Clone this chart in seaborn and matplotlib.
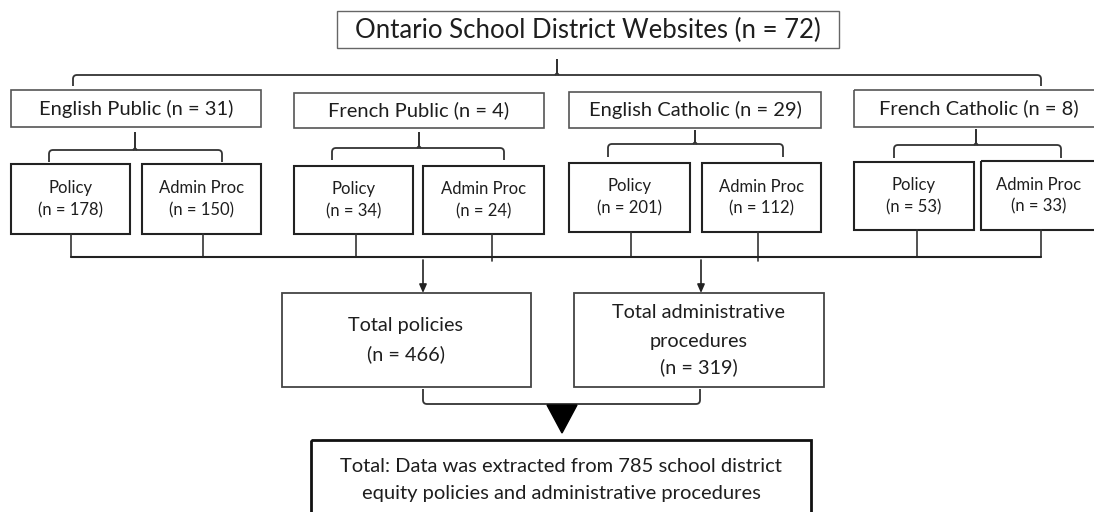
import matplotlib
matplotlib.use('Agg')

import numpy as np
import matplotlib.pyplot as plt
import seaborn as sns
from matplotlib.patches import Rectangle, PathPatch, Polygon
from matplotlib.path import Path

# =========================
# DATA
# =========================
root_label = "Ontario School District Websites"
root_n = 72
groups = ["English Public", "French Public", "English Catholic", "French Catholic"]
group_n = [31, 4, 29, 8]
policy_n = [178, 34, 201, 53]
admin_n = [150, 24, 112, 33]
total_policies = 466
total_admin = 319
total_docs = 785

# =========================
# LAYOUT (pixel coords, y goes down)
# =========================
root_box = (337, 11, 839, 48)
group_boxes = [(11, 90, 261, 127), (294, 93, 544, 128),
               (569, 92, 821, 128), (854, 90, 1104, 127)]
group_brackets = [(49, 222, 150, 162, 135, 133), (332, 504, 148, 160, 419, 133),
                  (608, 783, 144, 157, 695, 131), (894, 1061, 145, 158, 976, 130)]
policy_boxes = [(11, 164, 130, 234), (294, 166, 413, 234),
                (569, 163, 690, 232), (854, 162, 974, 230)]
admin_boxes = [(142, 164, 261, 234), (423, 166, 544, 234),
               (702, 163, 821, 232), (981, 161, 1097, 230)]
drop_x = [71, 203, 356, 492, 631, 758, 917, 1041]
bus_y = 257
arrow_x = [423, 701]
tot_boxes = [(282, 293, 531, 387), (574, 293, 824, 387)]
final_box = (311, 440, 811, 520)

TXT = '#1e1e1e'

sns.set_style("white")
plt.rcParams['font.family'] = ['Lato', 'DejaVu Sans']

fig = plt.figure(figsize=(10.94, 5.12), dpi=100)
ax = fig.add_axes([0, 0, 1, 1])
ax.set_xlim(0, 1094)
ax.set_ylim(512, 0)
ax.axis('off')


def box(b, lw=1.0, ec='#555555'):
    x0, y0, x1, y1 = b
    ax.add_patch(Rectangle((x0, y0), x1 - x0, y1 - y0, fill=False, lw=lw, ec=ec))


def bracket(x0, x1, y, yend, tx, ttop, r=4, lw=1.3, c='#333333'):
    # horizontal bar with rounded ends going to yend and a tick at tx
    s = np.sign(yend - y)
    verts = [(x0, yend), (x0, y + s * r), (x0, y), (x0 + r, y),
             (x1 - r, y), (x1, y), (x1, y + s * r), (x1, yend)]
    codes = [Path.MOVETO, Path.LINETO, Path.CURVE3, Path.CURVE3,
             Path.LINETO, Path.CURVE3, Path.CURVE3, Path.LINETO]
    ax.add_patch(PathPatch(Path(verts, codes), fill=False, lw=lw, ec=c))
    if tx is not None:
        ax.plot([tx - 2, tx, tx, tx, tx + 2], [y, y - 2, ttop, y - 2, y],
                color=c, lw=lw, solid_capstyle='butt')


# top
box(root_box, lw=1.0, ec='#666666')
ax.text((root_box[0] + root_box[2]) / 2, 30, f"{root_label} (n = {root_n})",
        ha='center', va='center', fontsize=18.5, color=TXT)
bracket(73, 1041, 75, 86, 557, 60)

# groups
for i, g in enumerate(groups):
    b = group_boxes[i]
    box(b, lw=1.2, ec='#555555')
    cx = (b[0] + b[2]) / 2
    ax.text(cx, (b[1] + b[3]) / 2, f"{g} (n = {group_n[i]})",
            ha='center', va='center', fontsize=14.5, color=TXT)
    bracket(*group_brackets[i])
    for lb, lab, n in [(policy_boxes[i], "Policy", policy_n[i]),
                       (admin_boxes[i], "Admin Proc", admin_n[i])]:
        box(lb, lw=1.5, ec='#222222')
        lx = (lb[0] + lb[2]) / 2
        ly = (lb[1] + lb[3]) / 2
        ax.text(lx, ly - 11, lab, ha='center', va='center', fontsize=12, color=TXT)
        ax.text(lx, ly + 11, f"(n = {n})", ha='center', va='center', fontsize=12, color=TXT)

# drops to bus
bottoms = [b[3] for pair in zip(policy_boxes, admin_boxes) for b in pair]
for x, yb in zip(drop_x, bottoms):
    ax.plot([x, x], [yb, bus_y + (4 if x in (492, 758) else 0)], color='#333333', lw=1.2)
ax.plot([drop_x[0], drop_x[-1]], [bus_y, bus_y], color='#222222', lw=1.5)

# arrows
for x in arrow_x:
    ax.annotate('', xy=(x, tot_boxes[0][1]), xytext=(x, bus_y + 3),
                arrowprops=dict(arrowstyle='-|>,head_length=0.5,head_width=0.22',
                                color='#222222', lw=1.2, shrinkA=0, shrinkB=0))

# totals
box(tot_boxes[0], lw=1.3, ec='#444444')
ax.text(406, 326, "Total policies", ha='center', va='center', fontsize=14.3, color=TXT)
ax.text(406, 354, f"(n = {total_policies})", ha='center', va='center', fontsize=14.3, color=TXT)
box(tot_boxes[1], lw=1.3, ec='#444444')
ax.text(699, 313, "Total administrative", ha='center', va='center', fontsize=14.3, color=TXT)
ax.text(699, 341, "procedures", ha='center', va='center', fontsize=14.3, color=TXT)
ax.text(699, 367, f"(n = {total_admin})", ha='center', va='center', fontsize=14.3, color=TXT)

bracket(423, 700, 404, 389, None, None)
ax.add_patch(Polygon([(547, 405), (577, 405), (562, 433)], closed=True, fc='black', ec='black'))

# final
box(final_box, lw=2.0, ec='#111111')
ax.text(561, 466, f"Total: Data was extracted from {total_docs} school district",
        ha='center', va='center', fontsize=14.5, color=TXT)
ax.text(561, 493, "equity policies and administrative procedures",
        ha='center', va='center', fontsize=14.5, color=TXT)

plt.savefig("out.png", dpi=100, facecolor='white')
print("Saved: out.png")
